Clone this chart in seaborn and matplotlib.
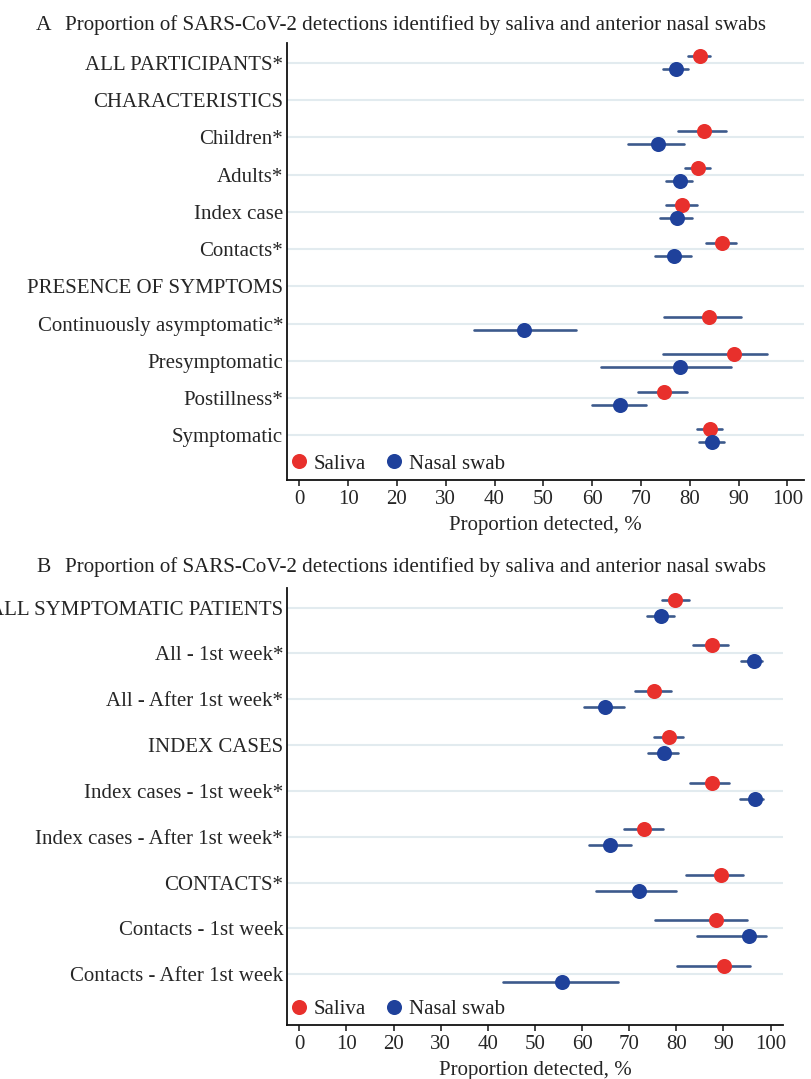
import numpy as np
import pandas as pd
import matplotlib
matplotlib.use("Agg")
import matplotlib.pyplot as plt
import seaborn as sns

# ---- data ----
labels_a = ["ALL PARTICIPANTS*", "CHARACTERISTICS", "Children*", "Adults*",
            "Index case", "Contacts*", "PRESENCE OF SYMPTOMS",
            "Continuously asymptomatic*", "Presymptomatic", "Postillness*",
            "Symptomatic"]
saliva_a = [82.0, np.nan, 83.0, 81.7, 78.5, 86.6, np.nan, 84.0, 89.0, 74.7, 84.2]
saliva_a_lo = [79.6, np.nan, 77.5, 79.1, 75.2, 83.4, np.nan, 74.7, 74.6, 69.4, 81.4]
saliva_a_hi = [84.2, np.nan, 87.5, 84.2, 81.5, 89.4, np.nan, 90.4, 95.9, 79.5, 86.6]
nasal_a = [77.1, np.nan, 73.4, 78.0, 77.3, 76.8, np.nan, 46.1, 77.9, 65.8, 84.6]
nasal_a_lo = [74.6, np.nan, 67.3, 75.2, 74.0, 72.9, np.nan, 35.8, 61.9, 60.0, 81.8]
nasal_a_hi = [79.6, np.nan, 78.9, 80.5, 80.5, 80.3, np.nan, 56.6, 88.5, 71.0, 87.0]

labels_b = ["ALL SYMPTOMATIC PATIENTS", "All - 1st week*", "All - After 1st week*",
            "INDEX CASES", "Index cases - 1st week*", "Index cases - After 1st week*",
            "CONTACTS*", "Contacts - 1st week", "Contacts - After 1st week"]
saliva_b = [79.8, 87.6, 75.2, 78.4, 87.5, 73.2, 89.5, 88.4, 90.2]
saliva_b_lo = [77.0, 83.5, 71.3, 75.3, 82.9, 69.0, 82.0, 75.5, 80.1]
saliva_b_hi = [82.6, 90.9, 78.9, 81.5, 91.1, 77.2, 94.1, 95.1, 95.6]
nasal_b = [76.7, 96.5, 64.8, 77.4, 96.7, 66.0, 72.1, 95.4, 55.8]
nasal_b_lo = [73.7, 93.7, 60.5, 74.1, 93.6, 61.5, 62.9, 84.5, 43.3]
nasal_b_hi = [79.5, 98.2, 68.9, 80.3, 98.4, 70.4, 80.0, 99.0, 67.7]

specimens = ["Saliva", "Nasal swab"]
title = "Proportion of SARS-CoV-2 detections identified by saliva and anterior nasal swabs"

RED = "#e8302c"
BLUE = "#1f419b"
BAR = "#3d5a8c"
GRID = "#e2ebef"

sns.set_style("white")
plt.rcParams["font.family"] = ["Liberation Serif", "DejaVu Serif"]
plt.rcParams["text.color"] = "#222222"


def long_frame(labels, est_s, lo_s, hi_s, est_n, lo_n, hi_n):
    # three values per row/specimen: the median is the estimate, min/max the CI
    rows = []
    for spec, est, lo, hi in [("Saliva", est_s, lo_s, hi_s),
                              ("Nasal swab", est_n, lo_n, hi_n)]:
        for lab, e, l, h in zip(labels, est, lo, hi):
            if np.isnan(e):
                continue
            for v in (l, e, h):
                rows.append({"label": lab, "specimen": spec, "value": v})
    return pd.DataFrame(rows)


def draw_panel(ax, df, labels, ylim, leg_y):
    sns.pointplot(data=df, x="value", y="label", hue="specimen",
                  order=labels, hue_order=specimens, palette=[RED, BLUE],
                  estimator="median", errorbar=lambda v: (v.min(), v.max()),
                  dodge=0.35, linestyle="none", marker="o", markersize=8.8,
                  err_kws={"color": BAR, "linewidth": 1.9, "zorder": 1},
                  ax=ax)
    ax.set_xlim(-2.63, 103.4)
    ax.set_ylim(*ylim)
    ax.set_xticks(range(0, 101, 10))
    ax.grid(axis="y", color=GRID, linewidth=1.5)
    ax.grid(axis="x", visible=False)
    ax.set_axisbelow(True)
    ax.tick_params(axis="y", length=0, pad=2.5, labelsize=15)
    ax.tick_params(axis="x", length=4.5, width=1.2, direction="out",
                   labelsize=15, pad=3, bottom=True)
    for s in ["top", "right"]:
        ax.spines[s].set_visible(False)
    for s in ["left", "bottom"]:
        ax.spines[s].set_color("#111111")
        ax.spines[s].set_linewidth(1.3)
    ax.set_ylabel("")
    ax.set_xlabel("Proportion detected, %", fontsize=15, labelpad=5)

    leg = ax.get_legend()
    handles = leg.legend_handles
    texts = [t.get_text() for t in leg.get_texts()]
    leg.remove()
    ax.legend(handles, texts, loc="center left", bbox_to_anchor=(0.006, leg_y),
              ncol=2, frameon=False, fontsize=15, handlelength=0.9,
              handletextpad=0.25, columnspacing=0.9, borderaxespad=0,
              borderpad=0)


fig = plt.figure(figsize=(8.11, 10.79), dpi=100)
ax_a = fig.add_axes([0.3533, 0.5551, 0.6380, 0.4047])
ax_b = fig.add_axes([0.3535, 0.0500, 0.6123, 0.4047])

df_a = long_frame(labels_a, saliva_a, saliva_a_lo, saliva_a_hi,
                  nasal_a, nasal_a_lo, nasal_a_hi)
df_b = long_frame(labels_b, saliva_b, saliva_b_lo, saliva_b_hi,
                  nasal_b, nasal_b_lo, nasal_b_hi)

draw_panel(ax_a, df_a, labels_a, (11.2, -0.52), 0.037)
draw_panel(ax_b, df_b, labels_b, (9.11, -0.42), 0.036)
ax_b.set_xlim(-2.67, 102.7)

fig.text(36 / 811, 1 - 25 / 1079, "A", fontsize=15.5, va="center", ha="left")
fig.text(65 / 811, 1 - 25 / 1079, title, fontsize=15.1, va="center", ha="left")
fig.text(36 / 811, 1 - 567 / 1079, "B", fontsize=15.5, va="center", ha="left")
fig.text(65 / 811, 1 - 567 / 1079, title, fontsize=15.1, va="center", ha="left")

fig.savefig("out.png", dpi=100)
